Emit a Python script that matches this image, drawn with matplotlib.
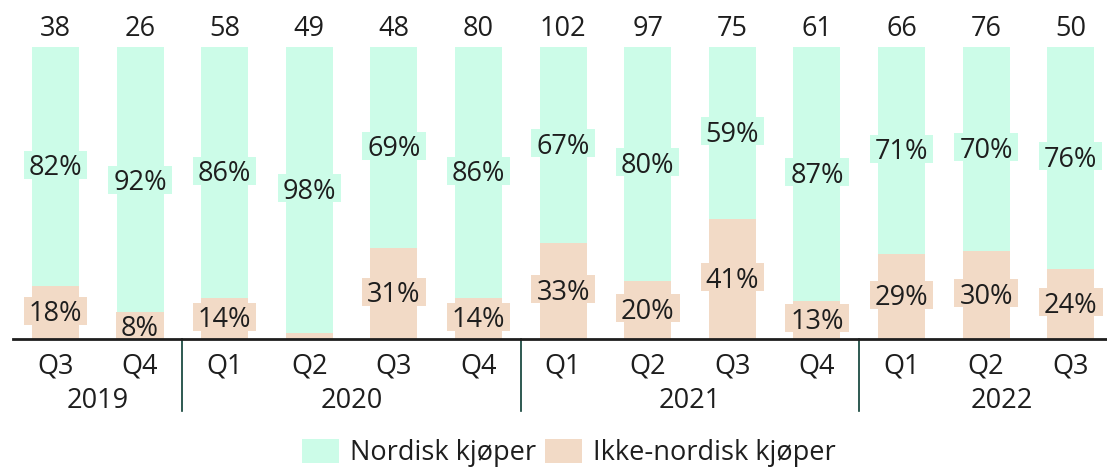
import matplotlib
matplotlib.use("Agg")
import matplotlib.pyplot as plt
from matplotlib.patches import Patch, Rectangle

quarters = ["Q3", "Q4", "Q1", "Q2", "Q3", "Q4", "Q1", "Q2", "Q3", "Q4", "Q1", "Q2", "Q3"]
years = ["2019", "2020", "2021", "2022"]
year_pos = [0.5, 3.5, 7.5, 11.18]
separators = [1.5, 5.5, 9.5]
nordic = [82, 92, 86, 98, 69, 86, 67, 80, 59, 87, 71, 70, 76]
non_nordic = [18, 8, 14, 2, 31, 14, 33, 20, 41, 13, 29, 30, 24]
counts = [38, 26, 58, 49, 48, 80, 102, 97, 75, 61, 66, 76, 50]

GREEN = "#CCFCE8"
PEACH = "#F2DAC6"
TEXT = "#1E1E1E"
SEP = "#0B3D33"
FONT = "Open Sans"
FS = 19.5

plt.rcParams["font.family"] = [FONT, "DejaVu Sans"]

W, H = 1107, 468
fig = plt.figure(figsize=(W / 100, H / 100), dpi=100)
ax = fig.add_axes([13.2 / W, 1 - 339 / H, 1 - 13.2 / W, (339 - 47) / H])

x = list(range(len(quarters)))
bw = 0.555
ax.bar(x, non_nordic, width=bw, color=PEACH, zorder=2)
ax.bar(x, nordic, width=bw, bottom=non_nordic, color=GREEN, zorder=2)

labels = []
for i in x:
    if non_nordic[i] >= 5:
        t = ax.text(i, non_nordic[i] / 2 + 0.6, f"{non_nordic[i]}%", ha="center",
                    va="center_baseline", fontsize=FS, color=TEXT, zorder=4)
        labels.append((t, PEACH))
    if nordic[i] >= 5:
        t = ax.text(i, non_nordic[i] + nordic[i] / 2 + 0.6, f"{nordic[i]}%", ha="center",
                    va="center_baseline", fontsize=FS, color=TEXT, zorder=4)
        labels.append((t, GREEN))
    ax.text(i, 100 + 7.3, str(counts[i]), ha="center", va="center_baseline", fontsize=FS,
            color=TEXT, clip_on=False)

ax.set_xlim(-0.5, (W - 55.5) / 84.6)
ax.set_ylim(0, 100)
for s in ["top", "right", "left"]:
    ax.spines[s].set_visible(False)
ax.spines["bottom"].set_color(TEXT)
ax.spines["bottom"].set_linewidth(2)
ax.spines["bottom"].set_zorder(5)
ax.set_yticks([])
ax.set_xticks(x)
ax.set_xticklabels(quarters, fontsize=FS, color=TEXT)
ax.tick_params(axis="x", length=0, pad=10)

px = 100 / 292.0  # data units per pixel in y
for s in separators:
    ax.plot([s, s], [0, -72 * px], color=SEP, lw=1.2, clip_on=False)
for yr, p in zip(years, year_pos):
    ax.text(p, -58 * px, yr, ha="center", va="center_baseline", fontsize=FS, color=TEXT,
            clip_on=False)

handles = [Patch(facecolor=GREEN, edgecolor="none", label="Nordisk kjøper"),
           Patch(facecolor=PEACH, edgecolor="none", label="Ikke-nordisk kjøper")]
fig.legend(handles=handles, loc="center", bbox_to_anchor=(569 / W, 1 - 453 / H), ncol=2,
           frameon=False, fontsize=FS, handlelength=1.35, handleheight=1.0,
           handletextpad=0.4, columnspacing=0.35, labelcolor=TEXT)

# background boxes behind percentage labels, sized from the rendered text
fig.canvas.draw()
renderer = fig.canvas.get_renderer()
inv = ax.transData.inverted()
for t, col in labels:
    bb = t.get_window_extent(renderer)
    cx = (bb.x0 + bb.x1) / 2
    _, cy = ax.transData.transform(t.get_position())
    w = bb.width + 10
    h = 28
    (x0, y0) = inv.transform((cx - w / 2, cy - h / 2))
    (x1, y1) = inv.transform((cx + w / 2, cy + h / 2))
    ax.add_patch(Rectangle((x0, y0), x1 - x0, y1 - y0, facecolor=col, edgecolor="none",
                           zorder=3, clip_on=False))

fig.savefig("out.png", dpi=100)
